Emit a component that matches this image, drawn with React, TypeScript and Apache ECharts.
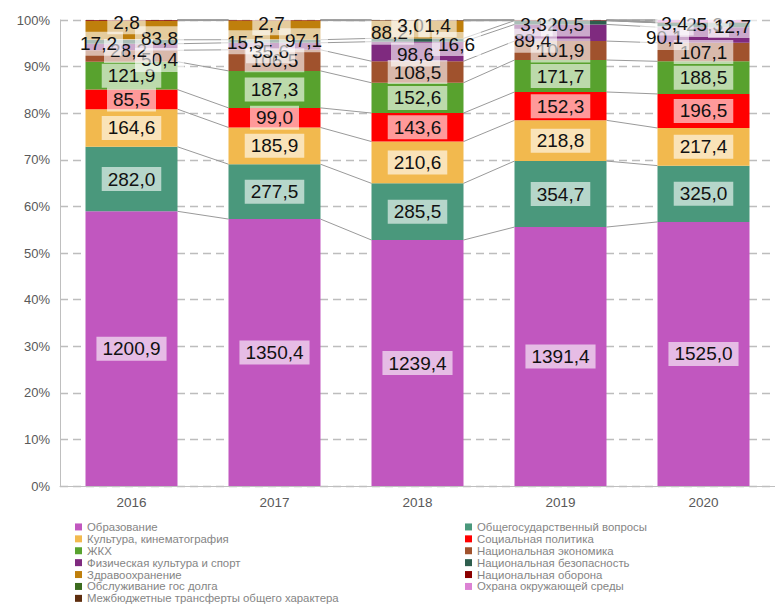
import React, { useEffect, useRef } from "react";
import * as echarts from "echarts";

const years = ["2016", "2017", "2018", "2019", "2020"];

const seriesNames = [
  "Образование",
  "Общегосударственный вопросы",
  "Культура, кинематография",
  "Социальная политика",
  "ЖКХ",
  "Национальная экономика",
  "Физическая культура и спорт",
  "Национальная безопасность",
  "Здравоохранение",
  "Национальная оборона",
  "Обслуживание гос долга",
  "Охрана окружающей среды",
  "Межбюджетные трансферты общего характера",
];

// values, mln rub
const education = [1200.9, 1350.4, 1239.4, 1391.4, 1525.0];
const general = [282.0, 277.5, 285.5, 354.7, 325.0];
const culture = [164.6, 185.9, 210.6, 218.8, 217.4];
const social = [85.5, 99.0, 143.6, 152.3, 196.5];
const housing = [121.9, 187.3, 152.6, 171.7, 188.5];
const economy = [50.4, 106.5, 108.5, 101.9, 107.1];
const sport = [28.2, 35.6, 98.6, 89.4, 90.1];
const security = [17.2, 15.5, 16.6, 20.5, 25.3];
const health = [83.8, 97.1, 88.2, 0, 0];
const defense = [2.8, 2.7, 3.0, 3.3, 3.4];
const debt = [0, 0, 1.4, 0, 0];
const ecology = [0, 0, 0, 0, 12.7];
const transfers = [0, 0, 0, 0, 0];

const yTicks = [0, 10, 20, 30, 40, 50, 60, 70, 80, 90, 100];

const rawSeries = [
  education, general, culture, social, housing, economy, sport,
  security, health, defense, debt, ecology, transfers,
];

const colors = [
  "#C157BF", "#4A987C", "#F2B94E", "#FF0000", "#58A22E", "#A0522D", "#7F2A7F",
  "#2E5E4E", "#BF7F0C", "#8B0000", "#3B6B1E", "#DC82D4", "#5E2D0E",
];

// manual label displacements (as in the reference), key = series-year
const labelShift: Record<string, [number, number]> = {
  "5-0": [28, 4], "6-0": [-3, 4], "7-0": [-33, 2], "8-0": [28, 8], "9-0": [-5, 2],
  "6-1": [-4, 5], "7-1": [-29, 1], "8-1": [29, 10], "9-1": [-3, 3],
  "6-2": [-2, 3], "7-2": [39, 4], "8-2": [-28, 3], "9-2": [-7, 5], "10-2": [20, 5],
  "6-3": [-28, 8], "7-3": [5, 2], "9-3": [-27, 4],
  "6-4": [-39, 3], "7-4": [1, 0], "9-4": [-29, 1], "11-4": [29, 5],
};

const leftLegend = [0, 2, 4, 6, 8, 10, 12].map((i) => seriesNames[i]);
const rightLegend = [1, 3, 5, 7, 9, 11].map((i) => seriesNames[i]);

const BAR_WIDTH = 92;
const FONT = "'Liberation Sans', Arial, sans-serif";

function fmt(v: number) {
  return v.toFixed(1).replace(".", ",");
}

export default function App() {
  const ref = useRef<HTMLDivElement>(null);

  useEffect(() => {
    if (!ref.current) return;
    const chart = echarts.init(ref.current, undefined, { renderer: "svg" });

    const totals = years.map((_, i) => rawSeries.reduce((a, s) => a + (s[i] || 0), 0));
    const pct = rawSeries.map((s) => s.map((v, i) => ((v || 0) / totals[i]) * 100));
    const cumTop: number[][] = [];
    pct.forEach((s, k) => {
      cumTop.push(s.map((v, i) => (k === 0 ? 0 : cumTop[k - 1][i]) + v));
    });

    const barSeries = rawSeries.map((s, k) => ({
      name: seriesNames[k],
      type: "bar",
      stack: "total",
      barWidth: BAR_WIDTH,
      z: 3,
      itemStyle: { color: colors[k] },
      label: {
        show: true,
        position: "inside",
        fontFamily: FONT,
        fontSize: 19,
        color: "#111",
        backgroundColor: "rgba(255,255,255,0.6)",
        padding: [3, 6, 2, 6],
        formatter: (p: any) => fmt(s[p.dataIndex]),
      },
      data: s.map((v, i) => {
        const item: any = { value: pct[k][i] };
        const sh = labelShift[`${k}-${i}`];
        if (!v) item.label = { show: false };
        else if (sh) item.label = { offset: sh };
        return item;
      }),
    }));

    const lineData: number[][] = [];
    cumTop.forEach((s) => {
      for (let i = 0; i < years.length - 1; i++) lineData.push([i, s[i], s[i + 1]]);
    });

    const seriesLines = {
      type: "custom",
      name: "series-lines",
      z: 1,
      silent: true,
      encode: { x: 0, y: 1 },
      data: lineData,
      renderItem: (params: any, api: any) => {
        const i = api.value(0);
        const a = api.coord([i, api.value(1)]);
        const b = api.coord([i + 1, api.value(2)]);
        const half = BAR_WIDTH / 2;
        return {
          type: "line",
          shape: { x1: a[0] + half, y1: a[1], x2: b[0] - half, y2: b[1] },
          style: { stroke: "#9a9a9a", lineWidth: 1 },
        };
      },
    };

    const legendCommon = {
      orient: "vertical",
      top: 521,
      height: 120,
      padding: 0,
      itemWidth: 7,
      itemHeight: 7,
      itemGap: 0,
      icon: "rect",
      selectedMode: false,
      textStyle: { fontFamily: FONT, fontSize: 11.4, color: "#858585", lineHeight: 11.9 },
    };

    chart.setOption({
      animation: false,
      backgroundColor: "#ffffff",
      grid: { left: 60, top: 20, width: 728, height: 466, containLabel: false },
      legend: [
        { ...legendCommon, left: 75, data: leftLegend },
        { ...legendCommon, left: 465, data: rightLegend },
      ],
      xAxis: {
        type: "category",
        data: years,
        axisTick: { show: false },
        axisLine: { lineStyle: { color: "#bfbfbf", width: 1 } },
        axisLabel: { fontFamily: FONT, fontSize: 13.5, color: "#595959", margin: 9 },
      },
      yAxis: {
        type: "value",
        min: yTicks[0],
        max: yTicks[yTicks.length - 1],
        interval: 10,
        axisLine: { show: true, lineStyle: { color: "#bfbfbf", width: 1 } },
        axisTick: { show: false },
        axisLabel: {
          fontFamily: FONT,
          fontSize: 13,
          color: "#595959",
          margin: 10,
          formatter: "{value}%",
        },
        splitLine: { lineStyle: { color: "#bdbdbd", type: [8, 5], width: 1.3 } },
      },
      series: [seriesLines, ...barSeries],
    } as any);

    return () => chart.dispose();
  }, []);

  return (
    <div
      ref={ref}
      style={{ position: "absolute", left: 0, top: 0, width: 775, height: 604, background: "#fff" }}
    />
  );
}
